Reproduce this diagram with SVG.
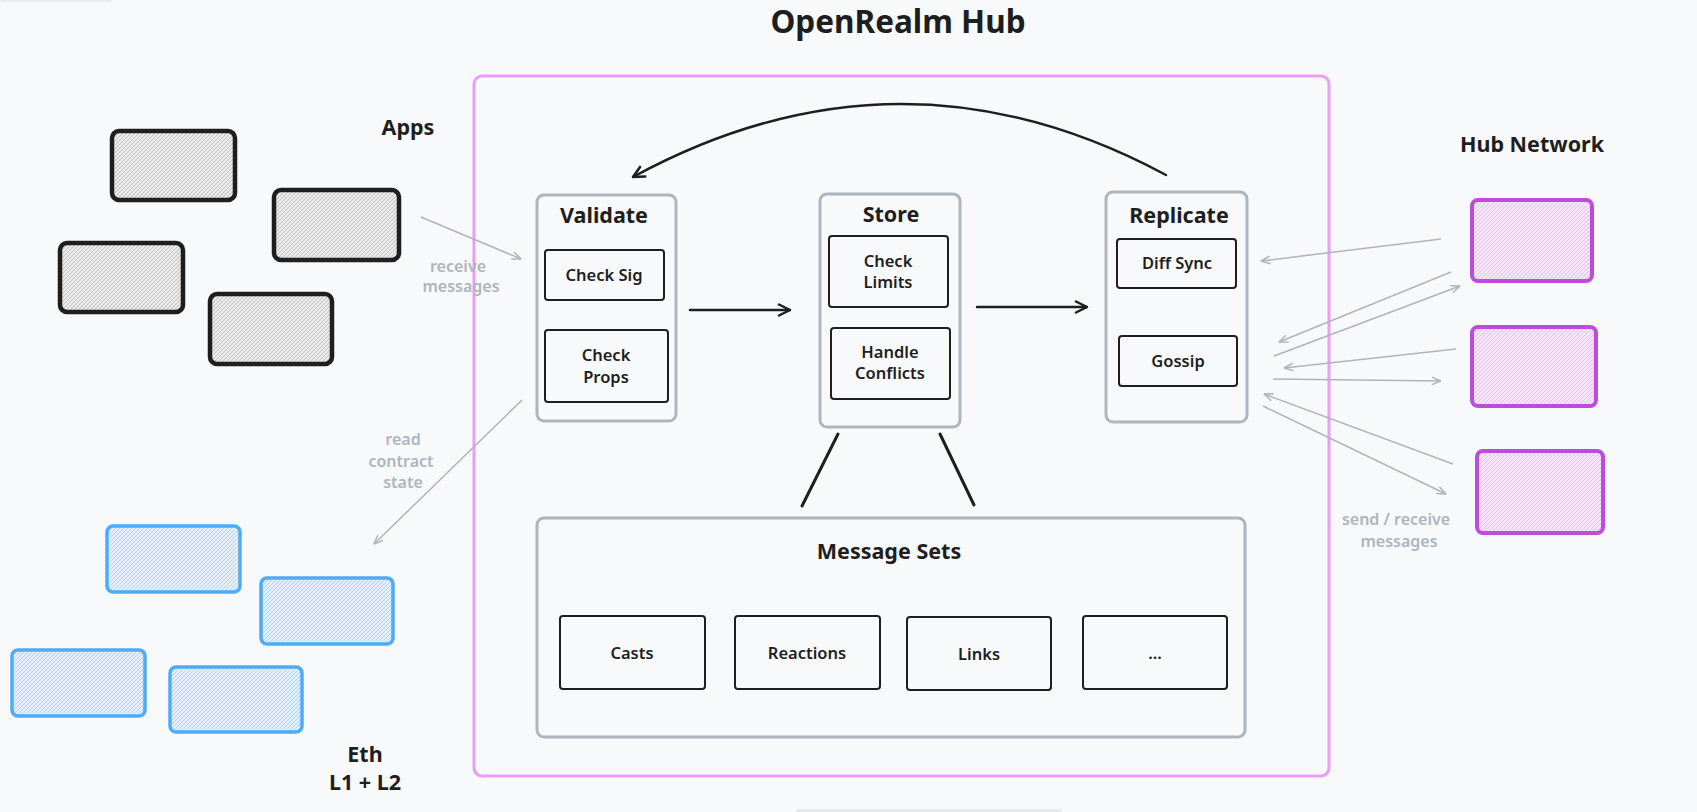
<svg xmlns="http://www.w3.org/2000/svg" width="1697" height="812" viewBox="0 0 1697 812">
<defs>
<pattern id="hatchGrey" width="4" height="4" patternUnits="userSpaceOnUse">
<rect width="4" height="4" fill="#f1f1f1"/>
<path d="M0,4 L4,0 M-1,1 L1,-1 M3,5 L5,3" stroke="#a8a8a8" stroke-width="0.7"/>
<path d="M0,0 L4,4 M-1,3 L1,5 M3,-1 L5,1" stroke="#c4c4c4" stroke-width="0.5"/>
</pattern>
<pattern id="hatchBlue" width="4" height="4" patternUnits="userSpaceOnUse">
<rect width="4" height="4" fill="#edf6fd"/>
<path d="M0,4 L4,0 M-1,1 L1,-1 M3,5 L5,3" stroke="#8cc6f5" stroke-width="0.7"/>
<path d="M0,0 L4,4 M-1,3 L1,5 M3,-1 L5,1" stroke="#b3d9f8" stroke-width="0.5"/>
</pattern>
<pattern id="hatchPink" width="4" height="4" patternUnits="userSpaceOnUse">
<rect width="4" height="4" fill="#f8eefb"/>
<path d="M0,4 L4,0 M-1,1 L1,-1 M3,5 L5,3" stroke="#e0a3ee" stroke-width="0.7"/>
<path d="M0,0 L4,4 M-1,3 L1,5 M3,-1 L5,1" stroke="#efc6f5" stroke-width="0.5"/>
</pattern>
<marker id="headGrey" viewBox="0 0 10 10" refX="9.5" refY="5" markerWidth="10" markerHeight="10" markerUnits="userSpaceOnUse" orient="auto">
<path d="M1,1.5 L9.5,5 L1,8.5" fill="none" stroke="#adb5bd" stroke-width="1.5" stroke-linecap="round" stroke-linejoin="round"/>
</marker>
<marker id="headBlack" viewBox="0 0 14 14" refX="13" refY="7" markerWidth="14" markerHeight="14" markerUnits="userSpaceOnUse" orient="auto">
<path d="M2,1.5 L13,7 L2,12.5" fill="none" stroke="#1e1e1e" stroke-width="2.5" stroke-linecap="round" stroke-linejoin="round"/>
</marker>
</defs>
<style>
.t{font-family:"Noto Sans","Liberation Sans",sans-serif;fill:#1e1e1e;text-anchor:middle;font-weight:600}
.title{font-size:31.5px;font-weight:700}
.sec{font-size:21.5px;font-weight:700}
.lbl{font-size:16.5px}
.g{fill:#adb5bd;font-size:16px;font-weight:600}
.cont{fill:none;stroke:#adb5bd;stroke-width:3}
.inner{fill:none;stroke:#1e1e1e;stroke-width:2}
.app{fill:url(#hatchGrey);stroke:#1e1e1e;stroke-width:4.5}
.eth{fill:url(#hatchBlue);stroke:#4dabf7;stroke-width:3.5}
.hub{fill:url(#hatchPink);stroke:#be4bdb;stroke-width:4}
.ga{fill:none;stroke:#adb5bd;stroke-width:1.5;marker-end:url(#headGrey)}
.ba{fill:none;stroke:#1e1e1e;stroke-width:2.5;stroke-linecap:round;marker-end:url(#headBlack)}
.bl{fill:none;stroke:#1e1e1e;stroke-width:3;stroke-linecap:round}
</style>
<rect x="0" y="0" width="1697" height="812" fill="#f8f9fb"/>
<rect x="0" y="-2" width="112" height="4" rx="2" fill="#e9ecef"/>
<rect x="796" y="809" width="266" height="5" rx="2" fill="#e9ecef"/>

<g id="title"><text class="t title" x="898" y="33">OpenRealm Hub</text></g>

<g id="hub-frame"><rect x="474" y="76" width="855" height="700" rx="8" fill="none" stroke="#eb9cf3" stroke-width="3"/></g>

<g id="apps">
<rect class="app" x="112" y="131" width="123" height="69" rx="7"/>
<rect class="app" x="274" y="190" width="125" height="70" rx="7"/>
<rect class="app" x="60" y="243" width="123" height="69" rx="7"/>
<rect class="app" x="210" y="294" width="122" height="70" rx="7"/>
<text class="t sec" x="408" y="135">Apps</text>
</g>

<g id="eth">
<rect class="eth" x="107" y="526" width="133" height="66" rx="6"/>
<rect class="eth" x="261" y="578" width="132" height="66" rx="6"/>
<rect class="eth" x="12" y="650" width="133" height="66" rx="6"/>
<rect class="eth" x="170" y="667" width="132" height="65" rx="6"/>
<text class="t sec" x="365" y="762">Eth</text>
<text class="t sec" x="365" y="790">L1 + L2</text>
</g>

<g id="hub-network">
<text class="t sec" x="1532" y="152">Hub Network</text>
<rect class="hub" x="1472" y="200" width="120" height="81" rx="6"/>
<rect class="hub" x="1472" y="327" width="124" height="79" rx="6"/>
<rect class="hub" x="1477" y="451" width="126" height="82" rx="6"/>
</g>

<g id="validate">
<rect class="cont" x="537" y="195" width="139" height="226" rx="7"/>
<text class="t sec" x="604" y="223">Validate</text>
<rect class="inner" x="545" y="250" width="119" height="50" rx="3"/>
<text class="t lbl" x="604" y="281">Check Sig</text>
<rect class="inner" x="545" y="330" width="123" height="72" rx="3"/>
<text class="t lbl" x="606" y="361">Check</text>
<text class="t lbl" x="606" y="383">Props</text>
</g>

<g id="store">
<rect class="cont" x="820" y="194" width="140" height="233" rx="7"/>
<text class="t sec" x="891" y="222">Store</text>
<rect class="inner" x="829" y="236" width="119" height="71" rx="3"/>
<text class="t lbl" x="888" y="267">Check</text>
<text class="t lbl" x="888" y="288">Limits</text>
<rect class="inner" x="831" y="328" width="119" height="71" rx="3"/>
<text class="t lbl" x="890" y="358">Handle</text>
<text class="t lbl" x="890" y="379">Conflicts</text>
</g>

<g id="replicate">
<rect class="cont" x="1106" y="192" width="141" height="230" rx="7"/>
<text class="t sec" x="1179" y="223">Replicate</text>
<rect class="inner" x="1117" y="239" width="119" height="49" rx="3"/>
<text class="t lbl" x="1177" y="269">Diff Sync</text>
<rect class="inner" x="1119" y="336" width="118" height="50" rx="3"/>
<text class="t lbl" x="1178" y="367">Gossip</text>
</g>

<g id="message-sets">
<rect class="cont" x="537" y="518" width="708" height="219" rx="7"/>
<text class="t sec" x="889" y="559">Message Sets</text>
<rect class="inner" x="560" y="616" width="145" height="73" rx="3"/>
<text class="t lbl" x="632" y="659">Casts</text>
<rect class="inner" x="735" y="616" width="145" height="73" rx="3"/>
<text class="t lbl" x="807" y="659">Reactions</text>
<rect class="inner" x="907" y="617" width="144" height="73" rx="3"/>
<text class="t lbl" x="979" y="660">Links</text>
<rect class="inner" x="1083" y="616" width="144" height="73" rx="3"/>
<text class="t lbl" x="1155" y="659">...</text>
</g>

<g id="connectors">
<path class="ba" d="M1166,175 Q900,32 633,177"/>
<path class="ba" d="M690,310 L790,310"/>
<path class="ba" d="M977,307 L1087,307"/>
<path class="bl" d="M838,434 L802,506"/>
<path class="bl" d="M940,434 L974,505"/>
<path class="ga" d="M421,217 L521,259"/>
<path class="ga" d="M522,400 L374,544"/>
<path class="ga" d="M1441,239 L1261,261"/>
<path class="ga" d="M1451,272 L1279,342"/>
<path class="ga" d="M1274,356 L1460,286"/>
<path class="ga" d="M1456,349 L1284,368"/>
<path class="ga" d="M1273,379 L1441,381"/>
<path class="ga" d="M1453,464 L1264,394"/>
<path class="ga" d="M1263,406 L1446,494"/>
<text class="t g" x="458" y="272">receive</text>
<text class="t g" x="461" y="292">messages</text>
<text class="t g" x="403" y="445">read</text>
<text class="t g" x="401" y="467">contract</text>
<text class="t g" x="403" y="488">state</text>
<text class="t g" x="1396" y="525">send / receive</text>
<text class="t g" x="1399" y="547">messages</text>
</g>
</svg>
